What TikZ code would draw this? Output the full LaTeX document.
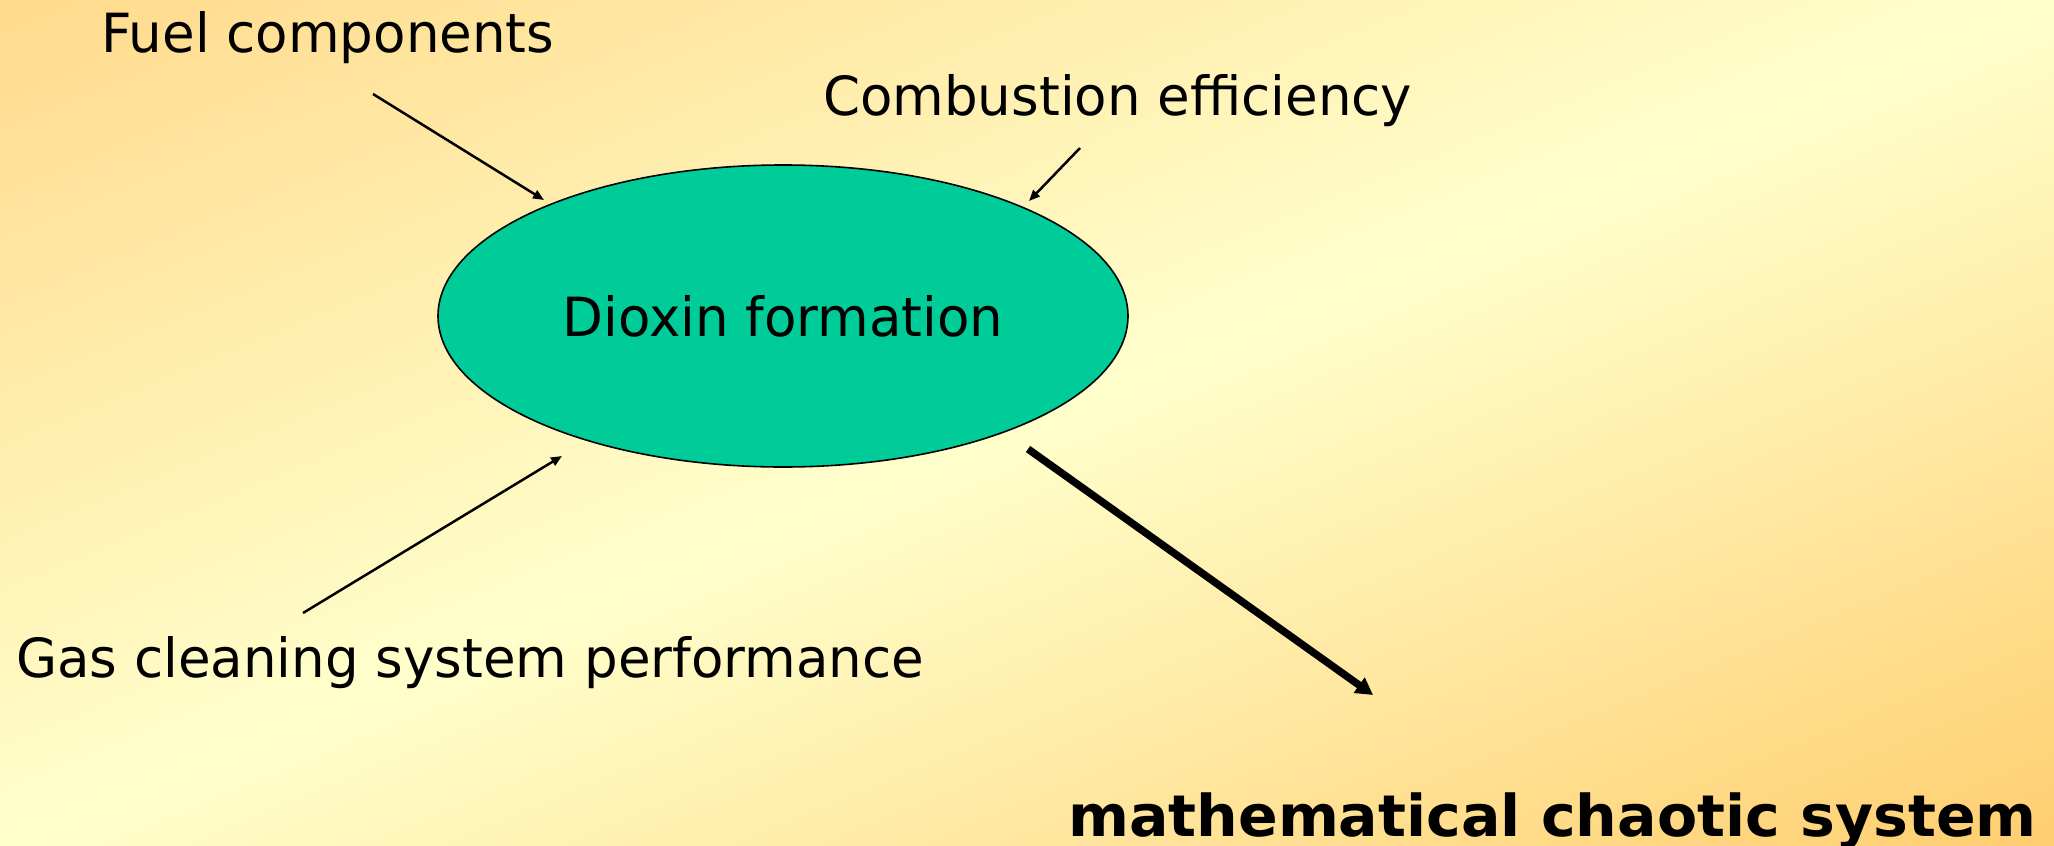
\documentclass[tikz,border=0pt]{standalone}
\usepackage{fontspec}
\usetikzlibrary{arrows.meta,shapes.geometric}
\newfontfamily\labelfont[FakeStretch=0.982]{DejaVu Sans}
\newfontfamily\chaosfont[FakeStretch=1.016]{DejaVu Sans}
\definecolor{dioxina}{HTML}{00CC99}
% degradado diagonal del fondo (claro en la diagonal, naranja en las esquinas)
\pgfdeclarefunctionalshading{fondo}{\pgfpoint{0bp}{0bp}}{\pgfpoint{100bp}{100bp}}{}{
  sub 50 div
  dup 0 lt
  { neg dup 0.145 mul 1 exch sub exch 0.251 mul 0.8 exch sub }
  { dup 0.192 mul 1 exch sub exch 0.361 mul 0.8 exch sub }
  ifelse
  1 3 1 roll
}
\begin{document}
\begin{tikzpicture}[x=1pt, y=-1pt,
  causa/.style={font=\labelfont\fontsize{54}{60}\selectfont, anchor=base west, inner sep=0pt},
  flecha/.style={-{Triangle[length=11pt, width=9pt]}, line width=2.5pt}]
  % Fondo
  \shade[shading=fondo] (0,0) rectangle (2054,846);
  \useasboundingbox (0,0) rectangle (2054,846);
  % Elipse central
  \node[ellipse, draw, line width=1.6pt, fill=dioxina,
    minimum width=690pt, minimum height=302pt,
    font=\labelfont\fontsize{54}{60}\selectfont] (dioxin) at (783,316) {Dioxin formation};
  % Factores
  \node[causa] (fuel) at (101,52) {Fuel components};
  \node[causa] (combustion) at (823,115) {Combustion efficiency};
  \node[causa] (gas) at (16,677) {Gas cleaning system performance};
  \node[anchor=base west, inner sep=0pt,
    font=\chaosfont\bfseries\fontsize{57.6}{62}\selectfont] (chaos) at (1068,836)
    {mathematical chaotic system};
  % Extremos de las flechas
  \coordinate (fuel tail) at (373,94);
  \coordinate (fuel tip) at (544,200);
  \coordinate (comb tail) at (1080,148);
  \coordinate (comb tip) at (1029,201);
  \coordinate (gas tail) at (303,613);
  \coordinate (gas tip) at (562,456);
  \coordinate (chaos tail) at (1028,449);
  \coordinate (chaos tip) at (1373,695);
  % Flechas
  \draw[flecha] (fuel tail) -- (fuel tip);
  \draw[flecha] (comb tail) -- (comb tip);
  \draw[flecha] (gas tail) -- (gas tip);
  \draw[-{Triangle[length=17pt, width=18pt]}, line width=7.5pt] (chaos tail) -- (chaos tip);
\end{tikzpicture}
\end{document}
